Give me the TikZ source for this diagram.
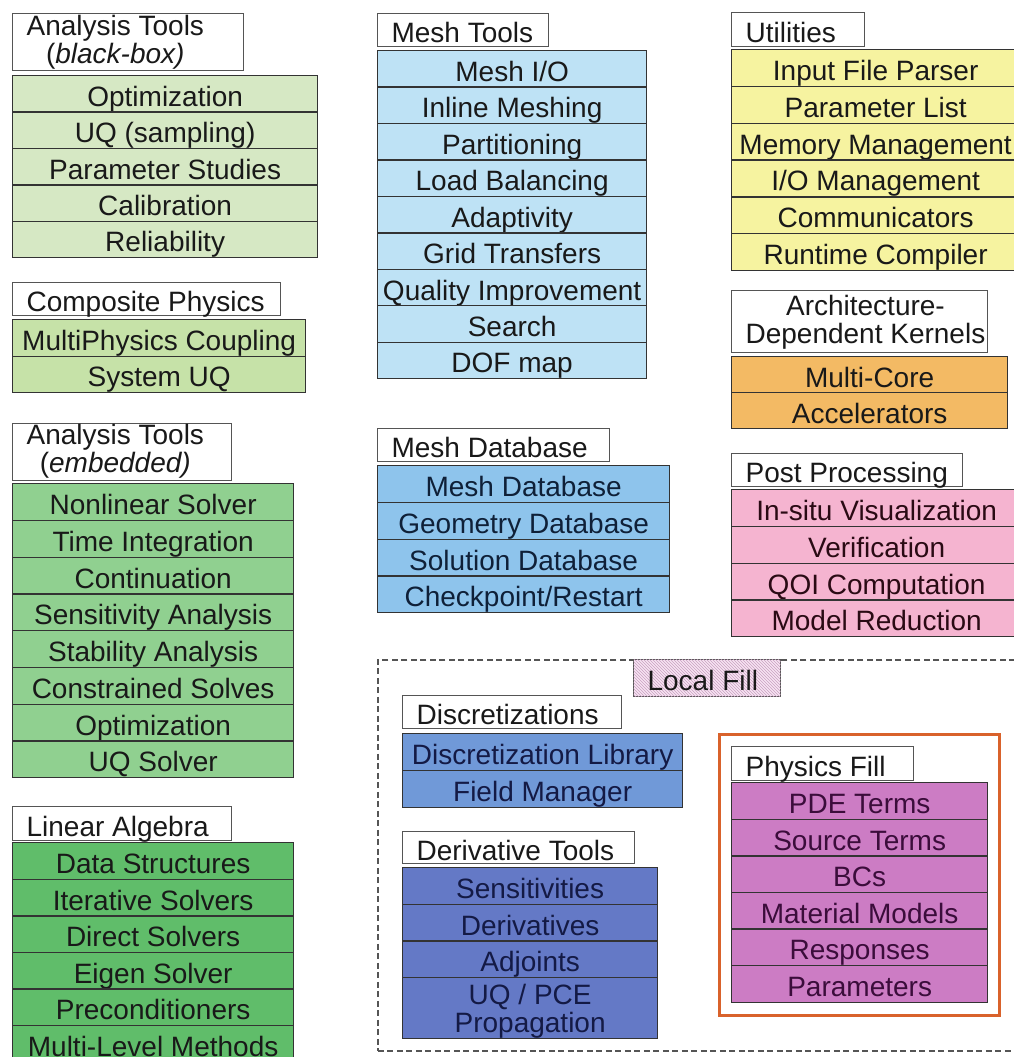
\documentclass[tikz,border=0pt]{standalone}
\usepackage{fontspec}
\setmainfont{Liberation Sans}
\usetikzlibrary{patterns}
\definecolor{bbgreen}{HTML}{D6E8C4}
\definecolor{cpgreen}{HTML}{C6E2A8}
\definecolor{emgreen}{HTML}{90D090}
\definecolor{lagreen}{HTML}{60BD6A}
\definecolor{mtblue}{HTML}{BEE2F5}
\definecolor{mdblue}{HTML}{8EC4EC}
\definecolor{utyellow}{HTML}{F6F3A0}
\definecolor{akorange}{HTML}{F3BA64}
\definecolor{pppink}{HTML}{F5B4D0}
\definecolor{discblue}{HTML}{7099D8}
\definecolor{derivblue}{HTML}{6479C6}
\definecolor{pfpurple}{HTML}{CC7CC4}
\definecolor{framered}{HTML}{D9622B}
\definecolor{itemline}{HTML}{333333}
\definecolor{hdrline}{HTML}{555555}
\definecolor{localpink}{HTML}{F7E4F3}
\definecolor{hatchc}{HTML}{C9A0C2}
\definecolor{dashc}{HTML}{555555}
\definecolor{mdtext}{HTML}{0F2038}
\definecolor{pptext}{HTML}{2A0A14}
\definecolor{navytext}{HTML}{141A45}
\definecolor{pftext}{HTML}{3B0D3B}
\tikzset{
  item/.style={draw=itemline, line width=1.3pt, inner sep=0pt, text height=25pt, text depth=0pt,
    font=\fontsize{28}{27}\selectfont, text=black!90},
  hdr/.style={draw=hdrline, fill=white, line width=1.2pt, inner sep=0pt, text height=25pt, text depth=0pt,
    font=\fontsize{28}{27}\selectfont, text=black!90},
  twoline/.style={text height=43pt},
  bbfill/.style={fill=bbgreen},
  cpfill/.style={fill=cpgreen},
  emfill/.style={fill=emgreen},
  lafill/.style={fill=lagreen},
  mtfill/.style={fill=mtblue},
  mdfill/.style={fill=mdblue, text=mdtext},
  utfill/.style={fill=utyellow},
  akfill/.style={fill=akorange},
  ppfill/.style={fill=pppink, text=pptext},
  discfill/.style={fill=discblue, text=navytext},
  derivfill/.style={fill=derivblue, text=navytext},
  pffill/.style={fill=pfpurple, text=pftext},
  dashframe/.style={draw=dashc, line width=1.6pt, dash pattern=on 6pt off 3.5pt, inner sep=0pt},
  physframe/.style={draw=framered, line width=2.5pt, inner sep=0pt},
}
\newcommand\twol[2]{\begin{tabular}[b]{@{}c@{}}#1\\#2\end{tabular}}
\newcommand\hdrbox[7][]{%
  \pgfmathsetmacro\hdrw{#5-#3}%
  \node[hdr,#1,minimum height={(#6-#4)*1pt},anchor=north west] (#2) at (#3,#4)
    {\makebox[\hdrw pt][l]{\hspace*{14pt}#7}};%
}
\newcommand\stackitems[7]{%
  \foreach \txt [count=\k] in {#7}{%
    \node[item,#6,minimum width={(#3-#2)*1pt},minimum height={#5*1pt},anchor=north west]
      (#1-\k) at ({#2},{#4+(\k-1)*#5}) {\txt};
  }%
}
\begin{document}
\begin{tikzpicture}[x=1pt,y=-1pt]
\useasboundingbox (0,0) rectangle (1014,1057);
\fill[white] (0,0) rectangle (1014,1057);
\clip (0,0) rectangle (1014,1057);

% ---------- left column
\hdrbox[twoline]{bbh}{12}{13}{243}{70}{\twol{Analysis Tools}{(\textit{black-box)}}}
\stackitems{bb}{12}{317}{75}{36.4}{bbfill}{Optimization,UQ (sampling),Parameter Studies,Calibration,Reliability}

\hdrbox{cph}{12}{282}{280}{315}{Composite Physics}
\stackitems{cp}{12}{305}{319}{36.5}{cpfill}{MultiPhysics Coupling,System UQ}

\hdrbox[{text height=41pt}]{emh}{12}{423}{231}{480}{\twol{Analysis Tools}{(\textit{embedded)}}}
\stackitems{em}{12}{293}{483}{36.75}{emfill}{Nonlinear Solver,Time Integration,Continuation,Sensitivity Analysis,Stability Analysis,Constrained Solves,Optimization,UQ Solver}

\hdrbox{lah}{12}{806}{231}{840}{Linear Algebra}
\stackitems{la}{12}{293}{842}{36.6}{lafill}{Data Structures,Iterative Solvers,Direct Solvers,Eigen Solver,Preconditioners,Multi-Level Methods}

% ---------- middle column
\hdrbox{mth}{377}{13}{548}{46}{Mesh Tools}
\stackitems{mt}{377}{646}{50}{36.45}{mtfill}{Mesh I/O,Inline Meshing,Partitioning,Load Balancing,Adaptivity,Grid Transfers,Quality Improvement,Search,DOF map}

\hdrbox{mdh}{377}{428}{609}{461}{Mesh Database}
\stackitems{md}{377}{669}{465}{36.75}{mdfill}{Mesh Database,Geometry Database,Solution Database,Checkpoint/Restart}

% ---------- right column
\hdrbox{uth}{731}{12}{864}{46}{Utilities}
\stackitems{ut}{731}{1019}{49}{36.8}{utfill}{Input File Parser,Parameter List,Memory Management,I/O Management,Communicators,Runtime Compiler}

\hdrbox[{text height=44pt}]{akh}{731}{290}{987}{352}{\twol{Architecture-}{Dependent Kernels}}
\stackitems{ak}{731}{1007}{356}{36}{akfill}{Multi-Core,Accelerators}

\hdrbox{pph}{731}{453}{962}{486}{Post Processing}
\stackitems{pp}{731}{1021}{489}{36.75}{ppfill}{In-situ Visualization,Verification,QOI Computation,Model Reduction}

% ---------- local fill region
\node[dashframe,minimum width=660pt,minimum height=391pt,anchor=north west] (localframe) at (377,659) {};
\hdrbox[{fill=localpink,postaction={pattern=north west lines,pattern color=hatchc}}]{localfill}{633}{659}{780}{696}{Local Fill}

\hdrbox{disch}{402}{695}{621}{728}{Discretizations}
\stackitems{disc}{402}{682}{733}{36.75}{discfill}{Discretization Library,Field Manager}

\hdrbox{dth}{402}{831}{634}{863}{Derivative Tools}
\stackitems{dt}{402}{657}{867}{36.67}{derivfill}{Sensitivities,Derivatives,Adjoints}
\node[item,derivfill,minimum width=255pt,minimum height=61pt,text height=49pt,anchor=north west]
  (dt-4) at (402,977) {\twol{UQ / PCE}{Propagation}};

\node[physframe,minimum width=280pt,minimum height=281pt,anchor=north west] (physframe) at (718,733) {};
\hdrbox{pfh}{731}{746}{913}{780}{Physics Fill}
\stackitems{pf}{731}{987}{782}{36.6}{pffill}{PDE Terms,Source Terms,BCs,Material Models,Responses,Parameters}
\end{tikzpicture}
\end{document}
